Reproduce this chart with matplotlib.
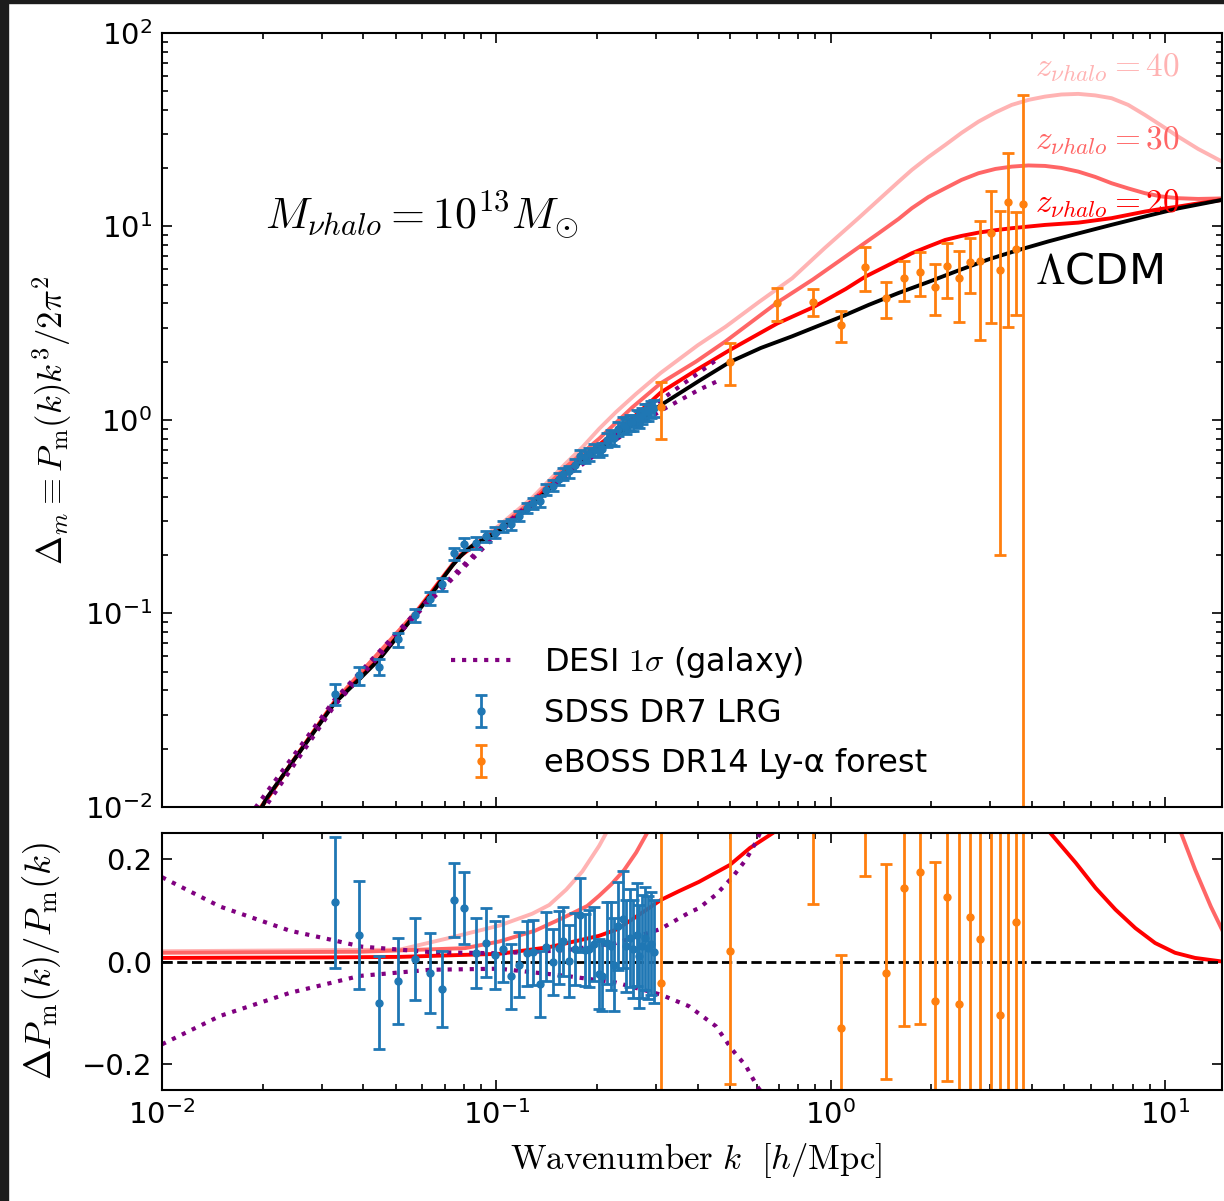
import matplotlib
matplotlib.use("Agg")
import matplotlib.pyplot as plt
from matplotlib.patches import Rectangle

# --- model curves, top panel (k [h/Mpc], Delta_m) ---
lcdm_k = [0.0190, 0.01989, 0.02057, 0.02581, 0.03284, 0.03899, 0.04474, 0.05133, 0.05770,
          0.06442, 0.06761, 0.07089, 0.07389, 0.07754, 0.08132, 0.08535, 0.09335, 0.1021,
          0.1147, 0.1280, 0.1439, 0.1618, 0.1806, 0.2029, 0.2281, 0.2547, 0.3108, 0.4036,
          0.4995, 0.618, 0.7648, 0.9083, 1.078, 1.298, 1.596, 1.961, 2.411, 2.962, 3.566,
          4.474, 5.500, 6.900, 8.716, 10.94, 14.80]
lcdm_delta = [0.00895, 0.0100, 0.01113, 0.01924, 0.03447, 0.04587, 0.05818, 0.07834, 0.1006,
              0.1276, 0.1438, 0.1609, 0.1770, 0.1948, 0.2116, 0.2259, 0.2456, 0.2669,
              0.3115, 0.3636, 0.4399, 0.5259, 0.6140, 0.7083, 0.8267, 0.9423, 1.195, 1.591,
              1.994, 2.355, 2.701, 3.042, 3.420, 3.930, 4.532, 5.167, 5.925, 6.753, 7.469,
              8.365, 9.200, 10.18, 11.26, 12.39, 13.71]

z20_k = [0.0190, 0.0199, 0.0258, 0.0328, 0.0447, 0.0577, 0.0709, 0.0775, 0.0934, 0.1021,
         0.1147, 0.1280, 0.1439, 0.1618, 0.1806, 0.2029, 0.2281, 0.2547, 0.3108, 0.4036,
         0.4995, 0.6914, 0.8838, 1.109, 1.269, 1.596, 1.748, 1.961, 2.200, 2.460, 2.766,
         3.108, 3.477, 4.374, 5.500, 6.915, 8.698, 9.730, 10.94, 12.55, 14.80]
z20_delta = [0.00902, 0.01007, 0.01937, 0.03471, 0.05859, 0.1013, 0.1621, 0.1965, 0.2484,
             0.2705, 0.3169, 0.3724, 0.4532, 0.5449, 0.6400, 0.7445, 0.8763, 1.018, 1.390,
             1.846, 2.300, 3.150, 3.815, 4.753, 5.503, 6.713, 7.270, 7.880, 8.516, 8.930,
             9.290, 9.560, 9.790, 10.18, 10.46, 11.03, 11.93, 12.31, 12.66, 13.15, 13.71]

z30_k = [0.0190, 0.0199, 0.0328, 0.0577, 0.0775, 0.1021, 0.1280, 0.1618, 0.2029, 0.2547,
         0.3101, 0.3950, 0.4850, 0.6914, 0.8838, 1.109, 1.391, 1.596, 1.748, 1.961, 2.200,
         2.460, 2.766, 3.108, 3.477, 3.899, 4.374, 4.893, 5.500, 6.180, 6.915, 7.755,
         8.698, 9.730, 10.94, 12.55, 14.80]
z30_delta = [0.00915, 0.01017, 0.03509, 0.1026, 0.1993, 0.2776, 0.3836, 0.5732, 0.8004,
             1.160, 1.548, 2.000, 2.550, 4.040, 5.316, 7.000, 9.225, 10.94, 12.42, 14.21,
             15.75, 17.39, 18.83, 19.82, 20.37, 20.66, 20.54, 20.06, 19.20, 18.02, 16.72,
             15.72, 14.85, 14.29, 13.99, 13.87, 13.95]

z40_k = [0.0190, 0.0199, 0.0328, 0.0577, 0.0775, 0.1021, 0.1280, 0.1618, 0.1806, 0.2029,
         0.2281, 0.2612, 0.3101, 0.4000, 0.4850, 0.6100, 0.7668, 0.9600, 1.212, 1.596,
         1.748, 1.961, 2.200, 2.460, 2.766, 3.108, 3.477, 3.899, 4.374, 4.893, 5.500,
         6.180, 6.915, 7.755, 8.698, 9.730, 10.94, 12.55, 14.80]
z40_delta = [0.00918, 0.0102, 0.03516, 0.1028, 0.2006, 0.2856, 0.3963, 0.5995, 0.7215,
             0.900, 1.100, 1.360, 1.750, 2.430, 3.034, 4.070, 5.398, 7.740, 11.06, 17.04,
             19.59, 22.87, 26.37, 30.42, 34.80, 38.82, 42.46, 45.06, 46.87, 48.05, 48.40,
             47.54, 45.98, 42.46, 37.69, 33.27, 29.12, 25.15, 21.63]

desi_top_k = [0.0190, 0.0328, 0.0577, 0.1021, 0.1618, 0.2281, 0.3108, 0.4036, 0.4640]
desi_top_up = [0.0099, 0.03585, 0.1024, 0.2712, 0.5375, 0.8565, 1.271, 1.756, 2.090]
desi_top_lo = [0.0084, 0.03344, 0.0989, 0.2632, 0.5112, 0.7928, 1.1185, 1.432, 1.602]

# --- model curves, bottom panel (fractional difference to LCDM) ---
z20_res_k = [0.0100, 0.0307, 0.0513, 0.0808, 0.1021, 0.1439, 0.2029, 0.2281, 0.2547,
             0.2800, 0.3108, 0.3518, 0.4036, 0.4995, 0.5735, 0.6713, 1.269, 2.200, 3.900,
             4.536, 5.404, 6.197, 7.105, 8.147, 9.335, 10.71, 12.29, 14.80]
z20_res = [0.007, 0.008, 0.009, 0.013, 0.015, 0.028, 0.050, 0.062, 0.082, 0.100, 0.120,
           0.137, 0.155, 0.188, 0.221, 0.250, 0.420, 0.470, 0.300, 0.250, 0.192, 0.143,
           0.101, 0.065, 0.036, 0.017, 0.007, 0.000]

z30_res_k = [0.0100, 0.0391, 0.0805, 0.1021, 0.1305, 0.1618, 0.1869, 0.2029, 0.2205,
             0.2410, 0.2618, 0.2823, 0.4000, 1.000, 3.000, 6.000, 10.30, 11.16, 12.29,
             13.70, 14.80]
z30_res = [0.017, 0.019, 0.026, 0.039, 0.060, 0.088, 0.108, 0.128, 0.150, 0.178, 0.212,
           0.250, 0.450, 1.000, 1.600, 1.200, 0.310, 0.250, 0.179, 0.107, 0.062]

z40_res_k = [0.0100, 0.0513, 0.0714, 0.1021, 0.1280, 0.1439, 0.1618, 0.1806, 0.2029,
             0.2130, 0.2600, 1.000, 5.000, 14.80]
z40_res = [0.020, 0.023, 0.045, 0.070, 0.093, 0.110, 0.140, 0.175, 0.225, 0.250, 0.450,
           2.000, 4.700, 0.600]

desi_up_k = [0.0100, 0.0149, 0.0241, 0.0317, 0.0395, 0.0644, 0.1021, 0.1618, 0.2281,
             0.3089, 0.3768, 0.4036, 0.4536, 0.5064, 0.5574, 0.5971, 0.6139, 0.6500]
desi_up = [0.164, 0.107, 0.060, 0.043, 0.029, 0.018, 0.016, 0.022, 0.036, 0.063, 0.095,
           0.104, 0.130, 0.163, 0.198, 0.232, 0.250, 0.290]
desi_lo_k = [0.0100, 0.0149, 0.0241, 0.0390, 0.0635, 0.1021, 0.1618, 0.2281, 0.3089,
             0.3768, 0.4536, 0.5064, 0.5574, 0.6013, 0.6139, 0.6500]
desi_lo = [-0.161, -0.106, -0.061, -0.028, -0.016, -0.014, -0.028, -0.041, -0.064, -0.087,
           -0.126, -0.171, -0.203, -0.242, -0.250, -0.290]

# --- SDSS DR7 LRG ---
sdss_k = [0.0328, 0.0388, 0.0445, 0.0507, 0.0569, 0.0631, 0.0689, 0.0749, 0.0802, 0.0866,
          0.0932, 0.0991, 0.1044, 0.1106, 0.1171, 0.1235, 0.1283, 0.1350, 0.1407, 0.1480,
          0.1535, 0.1577, 0.1652, 0.1721, 0.1778, 0.1844, 0.1895, 0.1960, 0.2029, 0.2076,
          0.2149, 0.2205, 0.2250, 0.2313, 0.2385, 0.2444, 0.2503, 0.2564, 0.2626, 0.2673,
          0.2728, 0.2785, 0.2842, 0.2902, 0.2962]
sdss_delta = [0.0384, 0.0478, 0.0531, 0.0735, 0.0981, 0.1194, 0.1413, 0.2043, 0.2290,
              0.2312, 0.2511, 0.2618, 0.2819, 0.2884, 0.3187, 0.3510, 0.3711, 0.3792,
              0.4363, 0.4581, 0.4981, 0.5254, 0.5417, 0.5880, 0.6549, 0.6440, 0.6670,
              0.7030, 0.6906, 0.7083, 0.7909, 0.8137, 0.8070, 0.8984, 0.9437, 0.9244,
              0.9660, 0.9740, 1.0285, 1.0077, 1.0535, 1.0960, 1.1030, 1.1397, 1.1505]
sdss_res = [0.115, 0.052, -0.080, -0.038, 0.005, -0.022, -0.054, 0.119, 0.104, 0.017,
            0.037, 0.012, 0.025, -0.029, -0.006, 0.016, 0.018, -0.043, 0.029, -0.001,
            0.027, 0.039, 0.001, 0.025, 0.091, 0.023, 0.025, 0.035, -0.025, -0.029,
            0.036, 0.030, -0.006, 0.069, 0.082, 0.030, 0.046, 0.025, 0.052, 0.010,
            0.030, 0.045, 0.027, 0.035, 0.019]
sdss_err = [0.127, 0.105, 0.090, 0.083, 0.080, 0.078, 0.074, 0.072, 0.070, 0.068,
            0.068, 0.066, 0.064, 0.063, 0.063, 0.063, 0.063, 0.064, 0.067, 0.065,
            0.071, 0.068, 0.070, 0.070, 0.072, 0.070, 0.075, 0.072, 0.068, 0.068,
            0.080, 0.085, 0.090, 0.085, 0.095, 0.090, 0.095, 0.095, 0.100, 0.100,
            0.100, 0.100, 0.100, 0.100, 0.100]

# --- eBOSS DR14 Ly-alpha forest ---
eboss_k = [0.3101, 0.4995, 0.6914, 0.8838, 1.076, 1.264, 1.463, 1.660, 1.853, 2.044,
           2.224, 2.422, 2.612, 2.804, 3.014, 3.211, 3.399, 3.579, 3.755]
eboss_delta = [1.171, 2.001, 4.040, 4.059, 3.097, 6.153, 4.255, 5.398, 5.839, 4.886,
               6.251, 5.398, 6.578, 6.594, 9.200, 5.960, 13.38, 7.632, 12.99]
eboss_lo = [0.795, 1.517, 3.248, 3.447, 2.530, 4.642, 3.354, 4.121, 4.389, 3.487,
            4.285, 3.198, 4.517, 2.578, 3.157, 0.2013, 3.006, 3.476, -1.0]
eboss_hi = [1.566, 2.491, 4.828, 4.753, 3.672, 7.806, 5.184, 6.632, 7.409, 6.378,
            8.189, 7.497, 8.755, 10.71, 15.31, 11.95, 24.07, 11.87, 47.83]
eboss_res = [-0.041, 0.021, 0.530, 0.315, -0.130, 0.600, -0.022, 0.144, 0.175, -0.076,
             0.126, -0.082, 0.086, 0.043, 0.360, -0.104, 0.880, 0.076, 0.740]
eboss_res_lo = [-0.330, -0.239, 0.270, 0.111, -0.300, 0.166, -0.228, -0.126, -0.121,
                -0.325, -0.232, -0.437, -0.276, -0.600, -0.530, -0.970, -0.580, -0.520,
                -1.000]
eboss_res_hi = [0.330, 0.280, 0.900, 0.540, 0.012, 1.030, 0.190, 0.446, 0.520, 0.194,
                0.510, 0.320, 0.404, 0.640, 1.260, 0.730, 2.390, 0.630, 5.400]

PINK = "#ffb3b3"
SALMON = "#ff6666"
RED = "#ff0000"
BLUE = "#1f77b4"
ORANGE = "#ff7f0e"


def main():
    """draw both panels"""
    plt.rcParams["mathtext.fontset"] = "cm"
    fig = plt.figure(figsize=(12.24, 12.01), dpi=100)
    ax1 = fig.add_axes([0.1324, 0.3281, 0.866, 0.6445])
    ax2 = fig.add_axes([0.1324, 0.0924, 0.866, 0.214], sharex=ax1)

    # top panel
    ax1.plot(z40_k, z40_delta, color=PINK, lw=2.8)
    ax1.plot(z30_k, z30_delta, color=SALMON, lw=2.8)
    ax1.plot(z20_k, z20_delta, color=RED, lw=2.8)
    ax1.plot(lcdm_k, lcdm_delta, color="black", lw=2.8)
    ax1.plot(desi_top_k, desi_top_up, color="purple", ls=":", lw=3,
             label=r"DESI $1\sigma$ (galaxy)")
    ax1.plot(desi_top_k, desi_top_lo, color="purple", ls=":", lw=3)
    sdss_top_err = [d * e for d, e in zip(sdss_delta, sdss_err)]
    ax1.errorbar(sdss_k, sdss_delta, yerr=sdss_top_err, fmt="o", color=BLUE, ms=5,
                 elinewidth=2, capsize=4, capthick=2, label="SDSS DR7 LRG")
    eb_err = [[d - lo for d, lo in zip(eboss_delta, eboss_lo)],
              [hi - d for d, hi in zip(eboss_delta, eboss_hi)]]
    ax1.errorbar(eboss_k, eboss_delta, yerr=eb_err, fmt="o", color=ORANGE, ms=5,
                 elinewidth=2, capsize=4, capthick=2,
                 label="eBOSS DR14 Ly-\u03b1 forest")
    ax1.set_xscale("log")
    ax1.set_yscale("log")
    ax1.set_xlim(0.01, 14.8)
    ax1.set_ylim(0.01, 100)
    ax1.set_ylabel(r"$\Delta_m \equiv P_{\rm m}(k)k^3/2\pi^2$", fontsize=25)
    ax1.yaxis.set_label_coords(-0.083, 0.5)
    ax1.text(0.097, 0.765, r"$M_{\nu halo} = 10^{13} M_{\odot}$", fontsize=31.5,
             transform=ax1.transAxes, va="center", ha="left")
    ax1.text(4.09, 65.9, r"$z_{\nu halo} = 40$", color=PINK, fontsize=24,
             va="center", ha="left")
    ax1.text(4.09, 27.7, r"$z_{\nu halo} = 30$", color=SALMON, fontsize=24,
             va="center", ha="left")
    ax1.text(4.09, 13.2, r"$z_{\nu halo} = 20$", color=RED, fontsize=24,
             va="center", ha="left")
    ax1.text(4.09, 5.82, r"$\Lambda$CDM", color="black", fontsize=31,
             va="center", ha="left")
    ax1.legend(loc="lower left", bbox_to_anchor=(0.2456, -0.001), frameon=False,
               fontsize=23, handlelength=1.9, handletextpad=1.0, labelspacing=0.58)
    plt.setp(ax1.get_xticklabels(), visible=False)

    # bottom panel
    ax2.plot(z40_res_k, z40_res, color=PINK, lw=2.8)
    ax2.plot(z30_res_k, z30_res, color=SALMON, lw=2.8)
    ax2.plot(z20_res_k, z20_res, color=RED, lw=2.8)
    ax2.plot(desi_up_k, desi_up, color="purple", ls=":", lw=3)
    ax2.plot(desi_lo_k, desi_lo, color="purple", ls=":", lw=3)
    ax2.axhline(0.0, color="black", ls="--", lw=2)
    ax2.errorbar(sdss_k, sdss_res, yerr=sdss_err, fmt="o", color=BLUE, ms=5,
                 elinewidth=2, capsize=4, capthick=2)
    eb_res_err = [[d - lo for d, lo in zip(eboss_res, eboss_res_lo)],
                  [hi - d for d, hi in zip(eboss_res, eboss_res_hi)]]
    ax2.errorbar(eboss_k, eboss_res, yerr=eb_res_err, fmt="o", color=ORANGE, ms=5,
                 elinewidth=2, capsize=4, capthick=2)
    ax2.set_ylim(-0.25, 0.25)
    ax2.set_yticks([-0.2, 0.0, 0.2])
    ax2.set_ylabel(r"$\Delta P_{\rm m}(k)/P_{\rm m}(k)$", fontsize=26.5)
    ax2.yaxis.set_label_coords(-0.093, 0.5)
    ax2.set_xlabel(r"$\mathrm{Wavenumber}\ k\ \ [h/\mathrm{Mpc}]$", fontsize=25)
    ax2.xaxis.set_label_coords(0.504, -0.2)

    for ax in (ax1, ax2):
        ax.tick_params(which="both", direction="in", top=True, right=True,
                       labelsize=21, width=1.2)
        ax.tick_params(which="major", length=7, pad=7)
        ax.tick_params(which="minor", length=4)
        for s in ax.spines.values():
            s.set_linewidth(1.5)

    # dark screenshot border on the left and top
    fig.patches.append(Rectangle((0, 0), 8 / 1224, 1, transform=fig.transFigure,
                                 color="#1c1c1c", zorder=-1))
    fig.patches.append(Rectangle((0, 1 - 3 / 1201), 1, 3 / 1201,
                                 transform=fig.transFigure, color="#1c1c1c", zorder=-1))
    fig.savefig("out.png", dpi=100)


if __name__ == "__main__":
    main()
